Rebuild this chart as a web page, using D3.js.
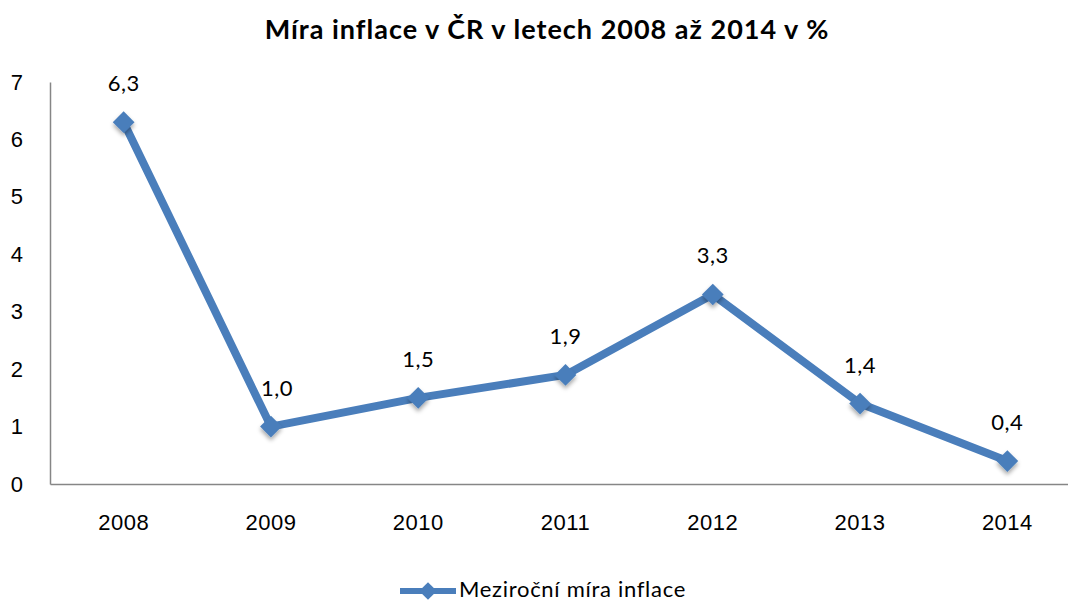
<!DOCTYPE html>
<html>
<head>
<meta charset="utf-8">
<script src="https://cdn.jsdelivr.net/npm/d3@7.9.0/dist/d3.min.js"></script>
<style>
  body { margin: 0; background: #fff; }
  svg { display: block; font-family: Lato, "Open Sans", sans-serif; }
</style>
</head>
<body>
<svg id="chart" width="1068" height="603"></svg>
<script>
// data
const years = ['2008', '2009', '2010', '2011', '2012', '2013', '2014'];
const inflation = [6.3, 1.0, 1.5, 1.9, 3.3, 1.4, 0.4];
const yTicks = [0, 1, 2, 3, 4, 5, 6, 7];
const seriesName = 'Meziroční míra inflace';
const title = 'Míra inflace v ČR v letech 2008 až 2014 v %';

const blue = '#4a7ebb';
const svg = d3.select('#chart');

const x = d3.scaleBand().domain(years).range([50, 1081]);
const y = d3.scaleLinear().domain([0, 7]).range([484, 82]);

const fmt = (v) => d3.format('.1f')(v).replace('.', ',');

// title
svg.append('text')
  .attr('x', 547).attr('y', 39)
  .attr('text-anchor', 'middle')
  .attr('font-size', 27).attr('font-weight', 'bold')
  .attr('letter-spacing', 1)
  .text(title);

// shadow filter for markers
const defs = svg.append('defs');
const f = defs.append('filter').attr('id', 'shadow')
  .attr('x', '-50%').attr('y', '-50%').attr('width', '200%').attr('height', '200%');
f.append('feDropShadow').attr('dx', 0).attr('dy', 3).attr('stdDeviation', 2)
  .attr('flood-color', '#000').attr('flood-opacity', 0.35);

// axes
const yAxis = svg.append('g').attr('transform', 'translate(50,0)')
  .call(d3.axisLeft(y).tickValues(yTicks).tickSize(0).tickPadding(26).tickFormat(d3.format('d')));
const xAxis = svg.append('g').attr('transform', 'translate(0,484)')
  .call(d3.axisBottom(x).tickSize(0).tickPadding(30));
[yAxis, xAxis].forEach((g) => {
  g.select('.domain').attr('stroke', '#868686').attr('stroke-width', 1.5);
  g.selectAll('text').attr('font-size', 22).attr('letter-spacing', 0.5)
    .attr('fill', '#000').attr('font-family', null);
});
yAxis.selectAll('text').attr('text-anchor', 'middle').attr('dx', 0).attr('x', -33);

const cx = (d, i) => x(years[i]) + x.bandwidth() / 2;

// line
svg.append('path')
  .datum(inflation)
  .attr('fill', 'none')
  .attr('stroke', blue)
  .attr('stroke-width', 8)
  .attr('stroke-linejoin', 'round')
  .attr('d', d3.line().x(cx).y((d) => y(d)));

// markers
const diamond = d3.symbol().type(d3.symbolDiamond2).size(300);
svg.append('g').selectAll('path')
  .data(inflation)
  .join('path')
  .attr('d', diamond)
  .attr('fill', blue)
  .attr('filter', 'url(#shadow)')
  .attr('transform', (d, i) => `translate(${cx(d, i)},${y(d)})`);

// data labels
svg.append('g').selectAll('text')
  .data(inflation)
  .join('text')
  .attr('x', (d, i) => cx(d, i) + (i === 1 ? 6 : 0))
  .attr('y', (d) => y(d) - 31)
  .attr('text-anchor', 'middle')
  .attr('font-size', 22)
  .attr('letter-spacing', 0.5)
  .text(fmt);

// legend
const lg = svg.append('g').attr('transform', 'translate(400,591)');
lg.append('line').attr('x1', 0).attr('x2', 56).attr('stroke', blue).attr('stroke-width', 6);
lg.append('path').attr('d', d3.symbol().type(d3.symbolDiamond2).size(200)).attr('fill', blue)
  .attr('transform', 'translate(28,0)');
lg.append('text').attr('x', 59).attr('y', 6).attr('font-size', 22)
  .attr('letter-spacing', 0.7).text(seriesName);
</script>
</body>
</html>
